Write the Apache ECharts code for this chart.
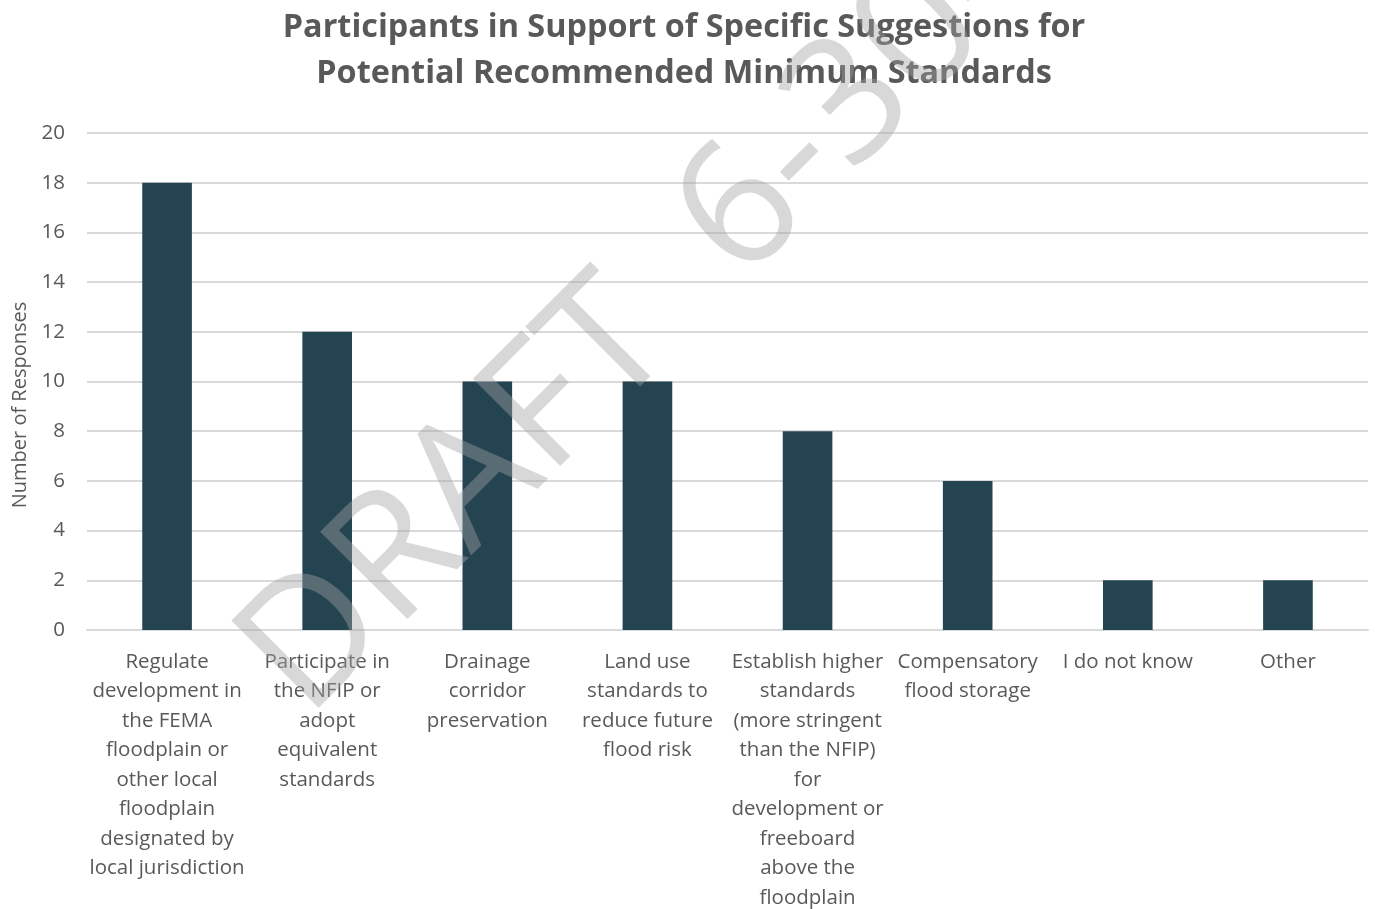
<!DOCTYPE html>
<html>
<head>
<meta charset="utf-8">
<script src="https://cdn.jsdelivr.net/npm/echarts@6/dist/echarts.min.js"></script>
<style>
  html, body { margin: 0; padding: 0; background: #fff; }
  #chart { width: 1379px; height: 909px; }
</style>
</head>
<body>
<div id="chart"></div>
<script>
const categories = [
  'Regulate\ndevelopment in\nthe FEMA\nfloodplain or\nother local\nfloodplain\ndesignated by\nlocal jurisdiction',
  'Participate in\nthe NFIP or\nadopt\nequivalent\nstandards',
  'Drainage\ncorridor\npreservation',
  'Land use\nstandards to\nreduce future\nflood risk',
  'Establish higher\nstandards\n(more stringent\nthan the NFIP)\nfor\ndevelopment or\nfreeboard\nabove the\nfloodplain',
  'Compensatory\nflood storage',
  'I do not know',
  'Other'
]
const responses = [18, 12, 10, 10, 8, 6, 2, 2]

const font = '"Open Sans", "Noto Sans", sans-serif'
const textColor = '#595959'

const chart = echarts.init(document.getElementById('chart'))

chart.setOption({
  animation: false,
  title: {
    text: 'Participants in Support of Specific Suggestions for\nPotential Recommended Minimum Standards',
    left: 679,
    top: 0,
    textAlign: 'center',
    textStyle: {
      fontFamily: font,
      fontSize: 32.4,
      fontWeight: 'bold',
      color: textColor,
      lineHeight: 46
    }
  },
  grid: {
    left: 87,
    right: 11,
    top: 133,
    bottom: 279,
    outerBoundsMode: 'none'
  },
  xAxis: {
    type: 'category',
    data: categories,
    axisTick: { show: false },
    axisLine: { lineStyle: { color: '#d9d9d9', width: 2 } },
    axisLabel: {
      interval: 0,
      margin: 17,
      fontFamily: font,
      fontSize: 20.5,
      lineHeight: 29.5,
      color: textColor
    }
  },
  yAxis: {
    type: 'value',
    min: 0,
    max: 20,
    interval: 2,
    axisLine: { show: false },
    axisTick: { show: false },
    axisLabel: { margin: 22, fontFamily: font, fontSize: 20.5, color: textColor },
    splitLine: { lineStyle: { color: '#d9d9d9', width: 2 } }
  },
  series: [{
    type: 'bar',
    data: responses,
    barWidth: '31%',
    itemStyle: { color: '#254451' }
  }],
  graphic: [{
    // y-axis title, centred lower than the plot middle as in the original
    type: 'text',
    x: 20,
    y: 405,
    rotation: Math.PI / 2,
    style: {
      text: 'Number of Responses',
      fontFamily: font,
      fontSize: 20,
      fill: textColor,
      align: 'center',
      verticalAlign: 'middle'
    }
  }, {
    // watermark
    type: 'text',
    z: 100,
    x: 333,
    y: 746,
    rotation: Math.PI / 4,
    style: {
      text: 'DRAFT  6-30-2022',
      fontFamily: font,
      fontSize: 173,
      fill: 'rgba(163,163,163,0.42)',
      verticalAlign: 'bottom'
    }
  }]
})
</script>
</body>
</html>
